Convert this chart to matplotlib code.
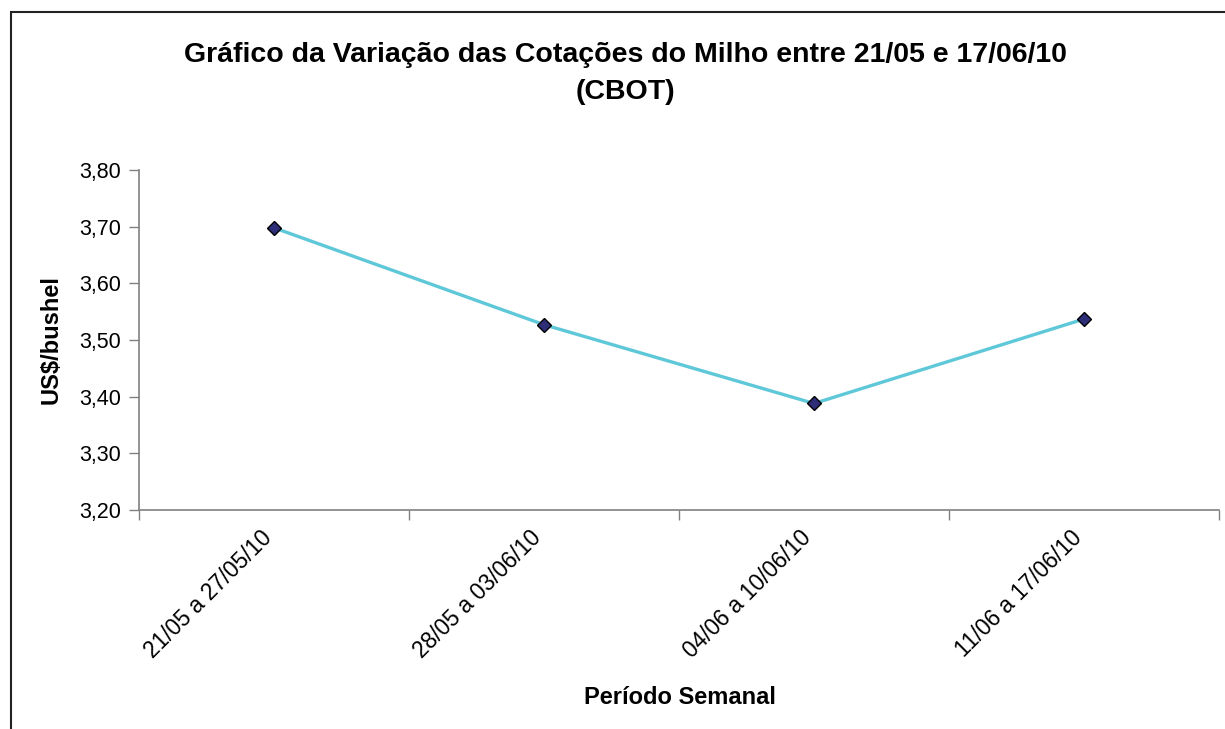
import matplotlib
matplotlib.use("Agg")
import matplotlib.pyplot as plt
from matplotlib.ticker import FixedLocator, FuncFormatter
from matplotlib.patches import Rectangle
from matplotlib.transforms import ScaledTranslation

plt.rcParams['font.family'] = ['Liberation Sans', 'DejaVu Sans']

categories = ["21/05 a 27/05/10", "28/05 a 03/06/10", "04/06 a 10/06/10", "11/06 a 17/06/10"]
values = [3.698, 3.527, 3.388, 3.537]
yticks = [3.20, 3.30, 3.40, 3.50, 3.60, 3.70, 3.80]

W, H = 1225, 729
fig = plt.figure(figsize=(W / 100, H / 100), dpi=100)
fig.patch.set_facecolor("white")

# outer chart border
fig.patches.append(Rectangle((11 / W, -0.05), 1.2, 1 - 12 / H + 0.05, transform=fig.transFigure,
                             fill=False, edgecolor="#222222", linewidth=1.5, zorder=0))

ax = fig.add_axes([139 / W, 1 - 510 / H, (1219 - 139) / W, (510 - 170) / H])
x = list(range(len(categories)))
ax.plot(x, values, color="#5EC8D9", linewidth=2.4, zorder=2)
ax.plot(x, values, linestyle="none", marker="D", markersize=7.5, markerfacecolor="#2E2E78",
        markeredgecolor="black", markeredgewidth=1.0, zorder=3)

ax.set_xlim(-0.5, len(categories) - 0.5)
ax.set_ylim(3.20, 3.80)
ax.yaxis.set_major_locator(FixedLocator(yticks))
ax.yaxis.set_major_formatter(FuncFormatter(lambda v, p: f"{v:.2f}".replace(".", ",")))
ax.set_xticks([i - 0.5 for i in range(len(categories) + 1)])
ax.set_xticklabels([])
ax.tick_params(axis="x", length=7, width=1, color="#808080", direction="out")
ax.tick_params(axis="y", length=7, width=1, color="#808080", direction="out", labelsize=15.5, pad=6)

offset = ScaledTranslation(-6 / 100, -24 / 100, fig.dpi_scale_trans)
for xi, cat in zip(x, categories):
    ax.text(xi, 0, cat, transform=ax.get_xaxis_transform() + offset, rotation=45,
            ha="right", va="center", rotation_mode="anchor", fontsize=16.3)

for s in ["top", "right"]:
    ax.spines[s].set_visible(False)
for s in ["left", "bottom"]:
    ax.spines[s].set_color("#808080")
    ax.spines[s].set_linewidth(1.2)

fig.text(625 / W, 1 - 55 / H, "Gráfico da Variação das Cotações do Milho entre 21/05 e 17/06/10",
         ha="center", va="center", fontsize=20.5, fontweight="bold")
fig.text(625 / W, 1 - 92 / H, "(CBOT)", ha="center", va="center", fontsize=20.5, fontweight="bold")
fig.text(51 / W, 1 - 340 / H, "US$/bushel", ha="center", va="center", rotation=90,
         fontsize=17, fontweight="bold")
fig.text(680 / W, 1 - 697 / H, "Período Semanal", ha="center", va="center",
         fontsize=17, fontweight="bold")

fig.savefig("out.png", dpi=100)
